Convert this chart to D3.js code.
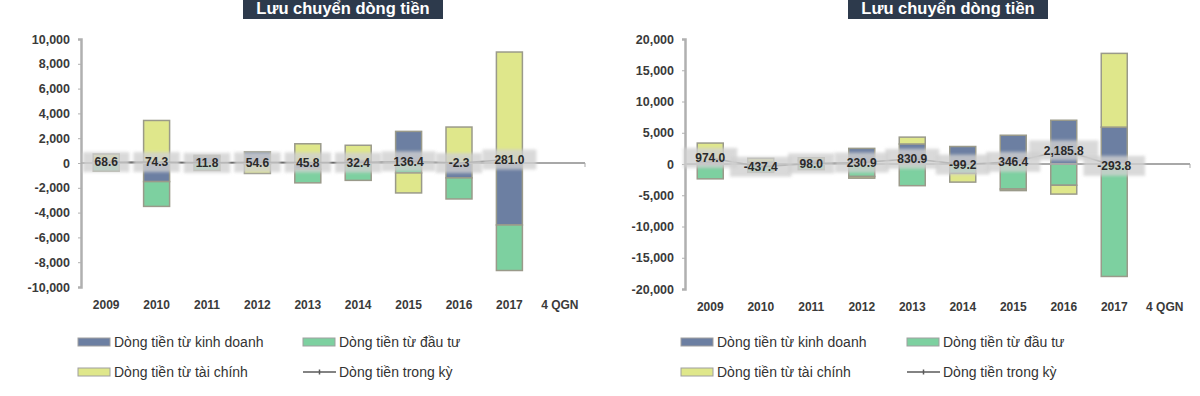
<!DOCTYPE html>
<html>
<head>
<meta charset="utf-8">
<script src="https://cdn.jsdelivr.net/npm/d3@7"></script>
<style>
  body { margin: 0; background: #fff; }
  svg { font-family: "Liberation Sans", Arial, sans-serif; }
</style>
</head>
<body>
<div class="chart"></div>
<script>
// Lưu chuyển dòng tiền - two stacked column charts
var categories = ["2009", "2010", "2011", "2012", "2013", "2014", "2015", "2016", "2017", "4 QGN"];

var seriesNames = ["Dòng tiền từ kinh doanh", "Dòng tiền từ đầu tư", "Dòng tiền từ tài chính", "Dòng tiền trong kỳ"];

// left chart (values in units shown on axis)
var leftKinhDoanh = [150, -1500, 500, 900, -500, 200, 2550, -1200, -5000, null];
var leftDauTu     = [-650, -2000, -600, -100, -1100, -1400, -800, -1700, -3670, null];
var leftTaiChinh  = [570, 3430, 112, -745, 1550, 1230, -1614, 2900, 8950, null];
var leftNet       = [68.6, 74.3, 11.8, 54.6, 45.8, 32.4, 136.4, -2.3, 281.0, null];
var leftTicks     = [-10000, -8000, -6000, -4000, -2000, 0, 2000, 4000, 6000, 8000, 10000];

// right chart
var rightKinhDoanh = [400, 300, 600, 2500, 3200, 2800, 4600, 7000, 5900, null];
var rightDauTu     = [-2376, -1337, -900, -2000, -3469, -1500, -4000, -3400, -17994, null];
var rightTaiChinh  = [2950, 600, 398, -269, 1100, -1399, -254, -1414, 11800, null];
var rightNet       = [974.0, -437.4, 98.0, 230.9, 830.9, -99.2, 346.4, 2185.8, -293.8, null];
var rightTicks     = [-20000, -15000, -10000, -5000, 0, 5000, 10000, 15000, 20000];

var colors = ["#6c7fa2", "#7dd0a0", "#dfe78b"];
var lineColor = "#5a5a5a";

var svg = d3.select(".chart")
  .append("svg")
  .attr("width", 1200)
  .attr("height", 396);

var defs = svg.append("defs");
defs.append("filter")
  .attr("id", "soft")
  .attr("x", "-30%").attr("y", "-30%").attr("width", "160%").attr("height", "160%")
  .append("feGaussianBlur")
  .attr("stdDeviation", 1.6);

var tickFmt = d => d3.format(",")(d).replace("−", "-");
var labelFmt = d => d3.format(",.1f")(d).replace("−", "-");

function drawChart(cfg) {
  var g = svg.append("g");

  // title box
  g.append("rect")
    .attr("x", cfg.titleX)
    .attr("y", -2)
    .attr("width", 200)
    .attr("height", 21)
    .attr("fill", "#2d3a4c");
  g.append("text")
    .attr("x", cfg.titleX + 100)
    .attr("y", 14)
    .attr("text-anchor", "middle")
    .attr("fill", "#fff")
    .attr("font-size", 16.5)
    .attr("font-weight", "bold")
    .text("Lưu chuyển dòng tiền");

  var x = d3.scaleBand()
    .domain(categories)
    .range([cfg.left, cfg.right]);

  var y = d3.scaleLinear()
    .domain([cfg.ticks[0], cfg.ticks[cfg.ticks.length - 1]])
    .range([cfg.bottom, 39]);

  // y axis
  var yAxis = g.append("g")
    .attr("transform", `translate(${cfg.left}, 0)`)
    .call(d3.axisLeft(y).tickValues(cfg.ticks).tickFormat(tickFmt).tickSize(3).tickPadding(8));
  yAxis.select(".domain").attr("stroke", "#b0b0b0").attr("stroke-width", 2.5);
  yAxis.selectAll(".tick line").attr("stroke", "#b0b0b0");
  yAxis.selectAll(".tick text")
    .attr("font-size", 12.5)
    .attr("font-weight", "bold")
    .attr("fill", "#3a3a3a");

  // category labels
  g.selectAll(".cat")
    .data(categories)
    .enter()
    .append("text")
    .attr("x", d => x(d) + x.bandwidth() / 2)
    .attr("y", cfg.bottom + 22)
    .attr("text-anchor", "middle")
    .attr("font-size", 12)
    .attr("font-weight", "bold")
    .attr("fill", "#3a3a3a")
    .text(d => d);

  // stacked bars
  var rows = categories.map((c, i) => ({
    cat: c,
    kd: cfg.kd[i] || 0,
    dt: cfg.dt[i] || 0,
    tc: cfg.tc[i] || 0
  }));
  var stacked = d3.stack()
    .keys(["kd", "dt", "tc"])
    .offset(d3.stackOffsetDiverging)(rows);

  var barW = 26;
  g.selectAll(".layer")
    .data(stacked)
    .enter()
    .append("g")
    .attr("fill", (d, i) => colors[i])
    .selectAll("rect")
    .data(d => d.filter(p => p[1] !== p[0]))
    .enter()
    .append("rect")
    .attr("x", d => x(d.data.cat) + x.bandwidth() / 2 - barW / 2)
    .attr("y", d => y(Math.max(d[0], d[1])))
    .attr("width", barW)
    .attr("height", d => Math.abs(y(d[0]) - y(d[1])))
    .attr("stroke", "#9a9a8a")
    .attr("stroke-width", 1.5);

  // zero line
  g.append("line")
    .attr("x1", cfg.left)
    .attr("x2", cfg.right)
    .attr("y1", y(0))
    .attr("y2", y(0))
    .attr("stroke", "#a8a8a8")
    .attr("stroke-width", 2);
  g.append("line")
    .attr("x1", cfg.right)
    .attr("x2", cfg.right)
    .attr("y1", y(0))
    .attr("y2", y(0) + 4)
    .attr("stroke", "#a8a8a8");

  // net cash flow line
  var pts = categories.map((c, i) => ({ cat: c, v: cfg.net[i] })).filter(d => d.v !== null);
  var line = d3.line()
    .x(d => x(d.cat) + x.bandwidth() / 2)
    .y(d => y(d.v));
  g.append("path")
    .datum(pts)
    .attr("d", line)
    .attr("fill", "none")
    .attr("stroke", lineColor)
    .attr("stroke-width", 1.5);

  // labels with soft grey box
  var lab = g.selectAll(".lab")
    .data(pts)
    .enter()
    .append("g")
    .attr("transform", d => `translate(${x(d.cat) + x.bandwidth() / 2}, ${y(d.v)})`);
  lab.append("rect")
    .attr("x", d => -(labelFmt(d.v).length * 3.8 + 8))
    .attr("y", -10)
    .attr("width", d => 2 * (labelFmt(d.v).length * 3.8 + 8))
    .attr("height", 20)
    .attr("fill", "#d0d0d0")
    .attr("opacity", 0.8)
    .attr("filter", "url(#soft)");
  lab.append("text")
    .attr("text-anchor", "middle")
    .attr("dy", "0.36em")
    .attr("font-size", 12)
    .attr("font-weight", "bold")
    .attr("fill", "#2a2a2a")
    .text(d => labelFmt(d.v));

  // legend
  var legendItems = [
    { name: seriesNames[0], col: 0, row: 0, color: colors[0] },
    { name: seriesNames[1], col: 1, row: 0, color: colors[1] },
    { name: seriesNames[2], col: 0, row: 1, color: colors[2] },
    { name: seriesNames[3], col: 1, row: 1, color: null }
  ];
  var leg = g.selectAll(".leg")
    .data(legendItems)
    .enter()
    .append("g")
    .attr("transform", d => `translate(${cfg.legendX[d.col]}, ${342 + d.row * 30})`);
  leg.filter(d => d.color)
    .append("rect")
    .attr("x", 0)
    .attr("y", -4)
    .attr("width", 32)
    .attr("height", 8)
    .attr("fill", d => d.color)
    .attr("stroke", "#a0a0a0")
    .attr("stroke-width", 1);
  leg.filter(d => !d.color)
    .append("line")
    .attr("x1", 0).attr("x2", 33)
    .attr("y1", 0).attr("y2", 0)
    .attr("stroke", lineColor)
    .attr("stroke-width", 1.5);
  leg.filter(d => !d.color)
    .append("line")
    .attr("x1", 16.5).attr("x2", 16.5)
    .attr("y1", -2.5).attr("y2", 2.5)
    .attr("stroke", lineColor)
    .attr("stroke-width", 1.5);
  leg.append("text")
    .attr("x", 36)
    .attr("dy", "0.36em")
    .attr("font-size", 14)
    .attr("fill", "#333")
    .text(d => d.name);
}

drawChart({
  titleX: 243, left: 81, right: 585, bottom: 287,
  ticks: leftTicks, kd: leftKinhDoanh, dt: leftDauTu, tc: leftTaiChinh, net: leftNet,
  legendX: [78, 303]
});

drawChart({
  titleX: 848, left: 685, right: 1190, bottom: 289,
  ticks: rightTicks, kd: rightKinhDoanh, dt: rightDauTu, tc: rightTaiChinh, net: rightNet,
  legendX: [681, 907]
});
</script>
</body>
</html>
